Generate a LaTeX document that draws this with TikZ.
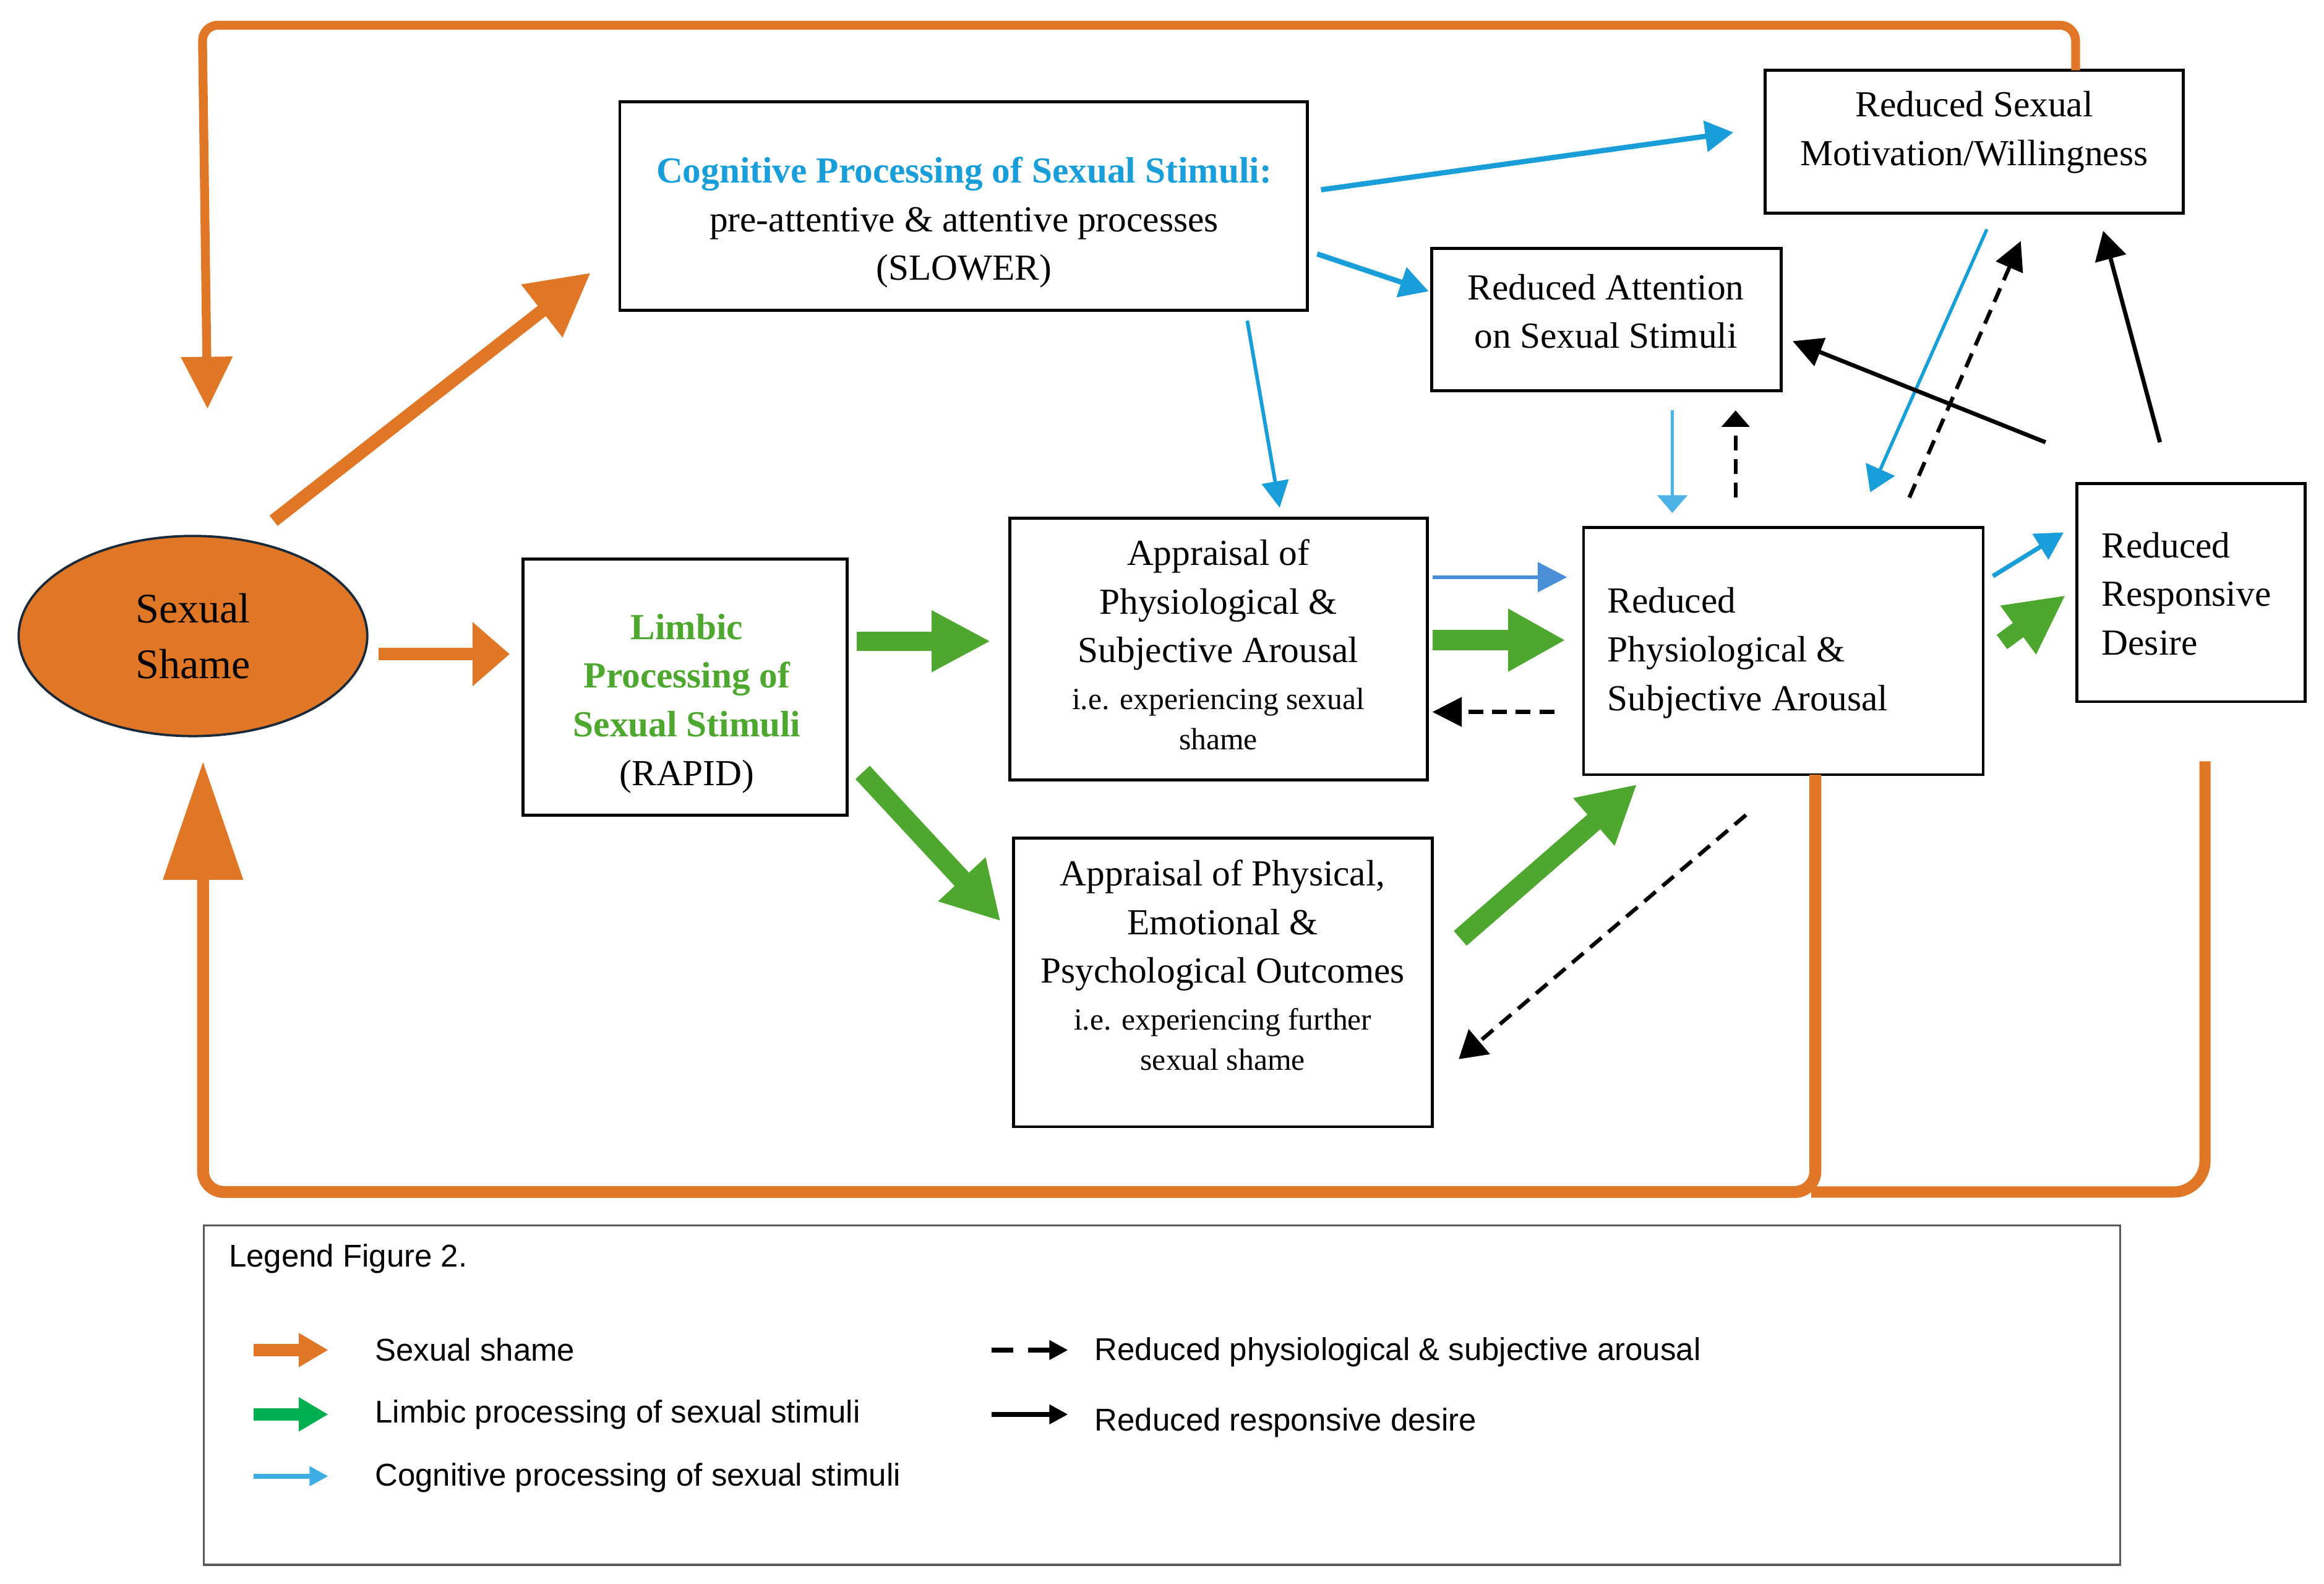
\documentclass[tikz,border=0pt]{standalone}
\usepackage{fontspec}
\setmainfont{Liberation Serif}
\newfontfamily\legfont{Liberation Sans}
\usetikzlibrary{arrows.meta,shapes.geometric}
\definecolor{shameOr}{HTML}{DF7727}
\definecolor{limGr}{HTML}{4EA72E}
\definecolor{cogBl}{HTML}{1A9ED9}
\definecolor{cogBlB}{HTML}{4B8FD8}
\definecolor{cogBlC}{HTML}{4DB3E6}
\definecolor{legGr}{HTML}{00B050}
\definecolor{legBl}{HTML}{3DADE3}
\definecolor{ellEdge}{HTML}{1B2A3A}
\definecolor{legEdge}{HTML}{595959}
\newcommand\bigf{\fontsize{14.1}{18.7}\selectfont}
\newcommand\smf{\fontsize{11.8}{15.3}\selectfont}
\newcommand\ssf{\fontsize{16.2}{21.5}\selectfont}
\newcommand\lgf{\legfont\fontsize{12.1}{14.5}\selectfont}
\tikzset{
  boxnode/.style={draw=black, line width=1.15pt, inner sep=0pt, outer sep=0pt},
  tx/.style={inner sep=0pt, align=center, font=\bigf},
  stx/.style={inner sep=0pt, align=center, font=\smf},
  lgtx/.style={inner sep=0pt, anchor=base west, font=\lgf},
  orline/.style={draw=shameOr, line width=#1},
  grline/.style={draw=limGr, line width=#1},
  blline/.style={draw=cogBl, line width=#1},
  bkline/.style={draw=black, line width=#1},
  dashline/.style={draw=black, line width=#1, dash pattern=on 5.7pt off 3.4pt},
  tipLW/.style n args={2}{-{Triangle[length=#1,width=#2]}}
}
\begin{document}
\begin{tikzpicture}[x=0.02cm, y=-0.02cm]
\useasboundingbox (0,0) rectangle (1568,1068.4);

% ---------- boxes ----------
\node[draw=ellEdge, line width=0.9pt, fill=shameOr, ellipse, inner sep=0pt, outer sep=0pt,
      minimum width=235.2*0.02cm, minimum height=135*0.02cm, align=center, font=\ssf] (ss) at (130.2,429) {Sexual\\Shame};
\node[boxnode, minimum width=463.9*0.02cm, minimum height=140.8*0.02cm] (cog) at (650.15,138.9) {};
\node[boxnode, minimum width=282.2*0.02cm, minimum height=96.2*0.02cm] (mot) at (1331.9,95.5) {};
\node[boxnode, minimum width=236*0.02cm, minimum height=96.2*0.02cm] (att) at (1083.9,215.6) {};
\node[boxnode, minimum width=218.4*0.02cm, minimum height=172.6*0.02cm] (lim) at (462.2,463.4) {};
\node[boxnode, minimum width=281.7*0.02cm, minimum height=176.5*0.02cm] (app) at (822.05,437.75) {};
\node[boxnode, minimum width=269.6*0.02cm, minimum height=166.8*0.02cm] (red) at (1203.2,439.1) {};
\node[boxnode, minimum width=153.8*0.02cm, minimum height=147.3*0.02cm] (resp) at (1478.3,399.65) {};
\node[boxnode, minimum width=282.7*0.02cm, minimum height=194.8*0.02cm] (apo) at (825.05,662.6) {};

% ---------- texts ----------
\node[tx] (cogT) at (650.4,150) {{\bfseries\color{cogBl}Cognitive Processing of Sexual Stimuli:}\\pre-attentive \& attentive processes\\(SLOWER)};
\node[tx] (motT) at (1332,89.2) {Reduced Sexual\\Motivation/Willingness};
\node[tx] (attT) at (1083.5,210) {Reduced Attention\\on Sexual Stimuli};
\node[tx] (limT) at (463.5,474.5) {{\bfseries\color{limGr}Limbic}\\{\bfseries\color{limGr}Processing of}\\{\bfseries\color{limGr}Sexual Stimuli}\\(RAPID)};
\node[tx] (appT) at (822,408) {Appraisal of\\Physiological \&\\Subjective Arousal};
\node[stx] (appS) at (822,485) {i.e. experiencing sexual\\shame};
\node[tx, align=left, anchor=west] (redT) at (1084.2,440.3) {Reduced\\Physiological \&\\Subjective Arousal};
\node[tx, align=left, anchor=west] (respT) at (1417.7,400.5) {Reduced\\Responsive\\Desire};
\node[tx] (apoT) at (825,624.2) {Appraisal of Physical,\\Emotional \&\\Psychological Outcomes};
\node[stx] (apoS) at (825,701) {i.e. experiencing further\\sexual shame};

% ---------- connector end points ----------
\coordinate (loopA1) at (1400.4,47.4);
\coordinate (loopA2) at (1400.4,17);
\coordinate (loopA3) at (136.5,17);
\coordinate (loopA4) at (140,275.8);
\coordinate (loopB1) at (1224.8,522.5);
\coordinate (loopB2) at (1224.8,804);
\coordinate (loopB3) at (137,804);
\coordinate (loopB4) at (137,513.5);
\coordinate (loopC1) at (1487.7,513.5);
\coordinate (loopC2) at (1487.7,804);
\coordinate (loopC3) at (1222,804);
\coordinate (ssCogS) at (184.6,351.2);   \coordinate (ssCogE) at (398.5,184);
\coordinate (ssLimS) at (255.4,441.2);   \coordinate (ssLimE) at (343.9,441.2);
\coordinate (limAppS) at (578,432.5);    \coordinate (limAppE) at (668.5,432.5);
\coordinate (limApoS) at (582,521);      \coordinate (limApoE) at (675.1,621.3);
\coordinate (appRedS) at (966.4,431.8);  \coordinate (appRedE) at (1056.3,431.8);
\coordinate (apoRedS) at (985.2,632.9);  \coordinate (apoRedE) at (1104.5,529);
\coordinate (redRespS) at (1350.7,433);  \coordinate (redRespE) at (1393.8,401.4);
\coordinate (cogMotS) at (891.3,128);    \coordinate (cogMotE) at (1169.5,89.3);
\coordinate (cogAttS) at (888.7,171.3);  \coordinate (cogAttE) at (963.9,196.5);
\coordinate (cogAppS) at (841.5,216.3);  \coordinate (cogAppE) at (863.4,342.5);
\coordinate (attRedS) at (1128.3,276.8); \coordinate (attRedE) at (1128.3,346);
\coordinate (appRedBS) at (966.4,389.3); \coordinate (appRedBE) at (1057.3,389.3);
\coordinate (motRedS) at (1340.5,154.7); \coordinate (motRedE) at (1261.8,332);
\coordinate (redRespBS) at (1344.6,388.6); \coordinate (redRespBE) at (1392.3,359.1);
\coordinate (respAttS) at (1380.1,298.3); \coordinate (respAttE) at (1209.5,230.1);
\coordinate (respMotS) at (1457.3,298.3); \coordinate (respMotE) at (1419,155.7);
\coordinate (redAttS) at (1171,335.6);   \coordinate (redAttE) at (1171,276.8);
\coordinate (redAppS) at (1048.6,480.2); \coordinate (redAppE) at (966.4,480.2);
\coordinate (redMotS) at (1288.2,335.6); \coordinate (redMotE) at (1363.4,162.6);
\coordinate (redApoS) at (1178,549.7);   \coordinate (redApoE) at (984.2,714.4);

% ---------- orange (sexual shame) ----------
\draw[orline=3.4pt, rounded corners=6pt, tipLW={20pt}{19pt}] (loopA1) -- (loopA2) -- (loopA3) -- (loopA4);
\draw[orline=4.3pt, rounded corners=12pt] (loopC1) -- (loopC2) -- (loopC3);
\draw[orline=4.6pt, rounded corners=8pt, tipLW={45.5pt}{29.6pt}] (loopB1) -- (loopB2) -- (loopB3) -- (loopB4);
\draw[orline=5pt, tipLW={23.8pt}{24.4pt}] (ssCogS) -- (ssCogE);
\draw[orline=4.9pt, tipLW={14.3pt}{23.8pt}] (ssLimS) -- (ssLimE);

% ---------- green (limbic) ----------
\draw[grline=7.5pt, tipLW={22.7pt}{22pt}] (limAppS) -- (limAppE);
\draw[grline=7.5pt, tipLW={21.9pt}{23.2pt}] (limApoS) -- (limApoE);
\draw[grline=7.8pt, tipLW={22.1pt}{22.6pt}] (appRedS) -- (appRedE);
\draw[grline=7.5pt, tipLW={22pt}{22.6pt}] (apoRedS) -- (apoRedE);
\draw[grline=6.8pt, tipLW={22.7pt}{21.5pt}] (redRespS) -- (redRespE);

% ---------- blue (cognitive) ----------
\draw[blline=2pt, tipLW={10.8pt}{11.7pt}] (cogMotS) -- (cogMotE);
\draw[blline=2pt, tipLW={11pt}{11.7pt}] (cogAttS) -- (cogAttE);
\draw[blline=1.4pt, tipLW={10.2pt}{10.2pt}] (cogAppS) -- (cogAppE);
\draw[blline=1.3pt, draw=cogBlC, tipLW={6.8pt}{11.4pt}] (attRedS) -- (attRedE);
\draw[blline=1.5pt, draw=cogBlB, tipLW={11.3pt}{11.3pt}] (appRedBS) -- (appRedBE);
\draw[blline=1.3pt, tipLW={9.6pt}{12pt}] (motRedS) -- (motRedE);
\draw[blline=1.7pt, tipLW={10.5pt}{11.3pt}] (redRespBS) -- (redRespBE);

% ---------- black (responsive desire) ----------
\draw[bkline=1.6pt, tipLW={11.3pt}{11.3pt}] (respAttS) -- (respAttE);
\draw[bkline=1.6pt, tipLW={11pt}{12pt}] (respMotS) -- (respMotE);

% ---------- dashed (reduced arousal) ----------
\draw[dashline=1.5pt, tipLW={6.3pt}{10.5pt}] (redAttS) -- (redAttE);
\draw[dashline=1.5pt, tipLW={11.3pt}{11.1pt}] (redAppS) -- (redAppE);
\draw[dashline=1.5pt, tipLW={11pt}{11pt}] (redMotS) -- (redMotE);
\draw[dashline=1.5pt, tipLW={10.4pt}{12.3pt}] (redApoS) -- (redApoE);

% ---------- legend ----------
\node[draw=legEdge, line width=0.8pt, inner sep=0pt, outer sep=0pt,
      minimum width=1292.9*0.02cm, minimum height=228.8*0.02cm] (leg) at (783.95,941) {};
\node[lgtx] (legT) at (154.2,854.7) {Legend Figure 2.};
\coordinate (lgOrS) at (171,910.6);  \coordinate (lgOrE) at (221.5,910.6);
\coordinate (lgGrS) at (171,954);    \coordinate (lgGrE) at (221.5,954);
\coordinate (lgBlS) at (171,995.7);  \coordinate (lgBlE) at (221.5,995.7);
\coordinate (lgDaS) at (669,910.6);  \coordinate (lgDaE) at (720.6,910.6);
\coordinate (lgBkS) at (669,954);    \coordinate (lgBkE) at (720.6,954);
\draw[orline=4.7pt, tipLW={11.3pt}{12.3pt}] (lgOrS) -- (lgOrE);
\draw[grline=4.7pt, draw=legGr, tipLW={11.3pt}{12.3pt}] (lgGrS) -- (lgGrE);
\draw[blline=2pt, draw=legBl, tipLW={7.2pt}{7.2pt}] (lgBlS) -- (lgBlE);
\draw[bkline=1.8pt, dash pattern=on 8.3pt off 5.7pt, tipLW={7.2pt}{7.2pt}] (lgDaS) -- (lgDaE);
\draw[bkline=1.8pt, tipLW={7.2pt}{7.2pt}] (lgBkS) -- (lgBkE);
\node[lgtx] (lgOrT) at (252.8,918.1) {Sexual shame};
\node[lgtx] (lgGrT) at (252.8,959.7) {Limbic processing of sexual stimuli};
\node[lgtx] (lgBlT) at (252.8,1002.4) {Cognitive processing of sexual stimuli};
\node[lgtx] (lgDaT) at (738.3,917.4) {Reduced physiological \& subjective arousal};
\node[lgtx] (lgBkT) at (738.3,965.1) {Reduced responsive desire};
\end{tikzpicture}
\end{document}
